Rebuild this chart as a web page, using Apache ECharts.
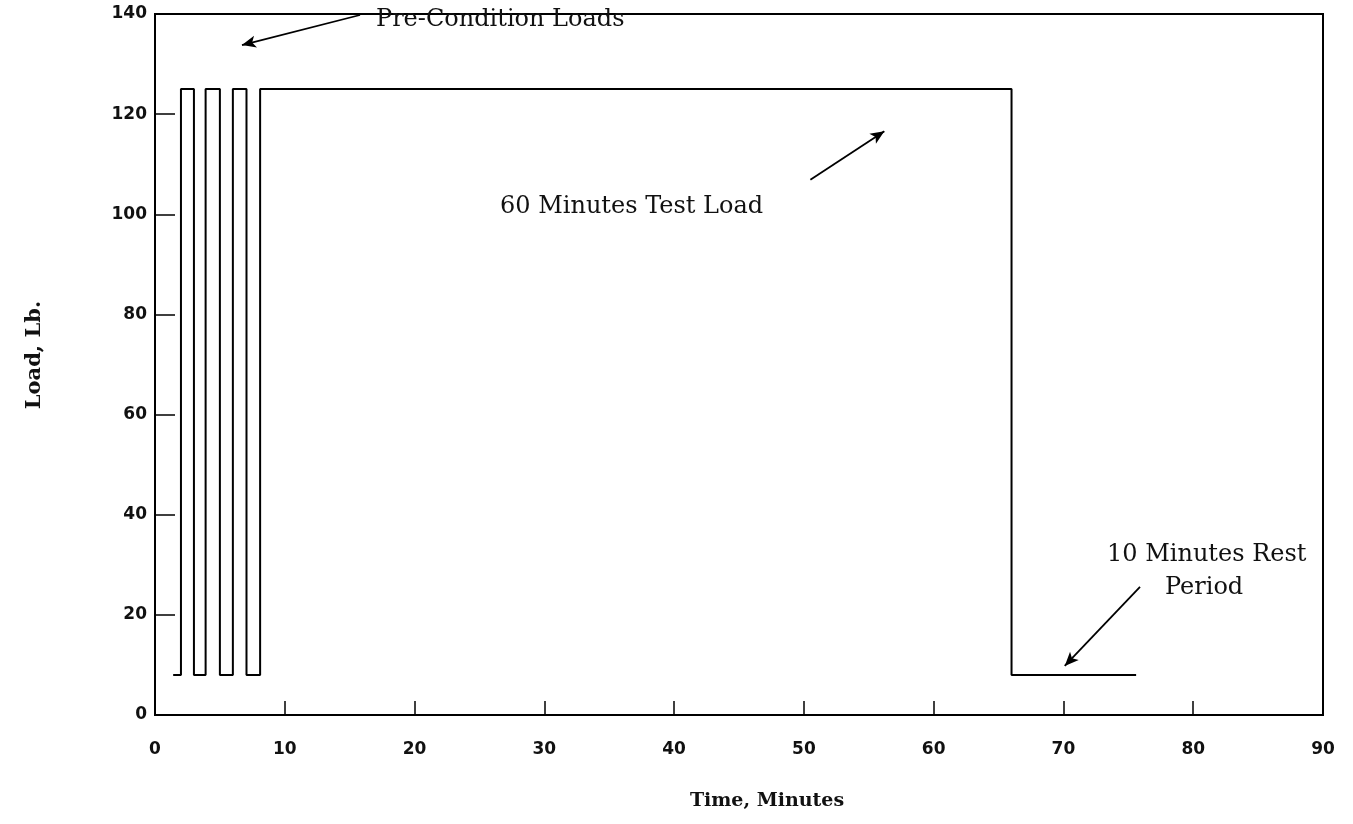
<!DOCTYPE html>
<html>
<head>
<meta charset="utf-8">
<script src="https://cdn.jsdelivr.net/npm/echarts@6/dist/echarts.min.js"></script>
<style>
  html, body { margin: 0; padding: 0; background: #fff; }
  #chart { width: 1353px; height: 824px; }
</style>
</head>
<body>
<div id="chart"></div>
<script>
// Load history: corner points of the loading profile (minutes, lb)
const timeMinutes = [1.4, 2.0, 2.0, 3.0, 3.0, 3.9, 3.9, 5.0, 5.0, 6.0, 6.0, 7.05, 7.05, 8.1, 8.1, 66.0, 66.0, 75.6];
const loadLb      = [8,   8,   125, 125, 8,   8,   125, 125, 8,   8,   125, 125,  8,    8,   125, 125,  8,    8];

// Axis ranges
const xRange = { min: 0, max: 90, step: 10 };
const yRange = { min: 0, max: 140, step: 20 };

// Annotation arrows: [fromTime, fromLoad] -> [toTime, toLoad]
const arrowPreCondition = [[15.8, 139.8], [6.7, 133.8]];
const arrowTestLoad     = [[50.5, 106.9], [56.2, 116.6]];
const arrowRest         = [[75.9, 25.6], [70.1, 9.8]];

const profile = timeMinutes.map((t, i) => [t, loadLb[i]]);

const chart = echarts.init(document.getElementById('chart'), null, { renderer: 'canvas' });

const annoFont = { fontFamily: 'DejaVu Serif', fontSize: 24, fill: '#111' };

function arrowLine(pair) {
  return [{ coord: pair[0] }, { coord: pair[1] }];
}

chart.setOption({
  animation: false,
  backgroundColor: '#fff',
  grid: {
    left: 155, right: 30, top: 14, bottom: 109,
    show: true, borderColor: '#000', borderWidth: 2, backgroundColor: 'transparent'
  },
  xAxis: {
    type: 'value', min: xRange.min, max: xRange.max, interval: xRange.step,
    axisLine: { lineStyle: { color: '#000', width: 2 } },
    axisTick: { inside: true, length: 14, lineStyle: { color: '#000', width: 1.5 } },
    axisLabel: { color: '#111', fontFamily: 'DejaVu Sans', fontSize: 17, fontWeight: 'bold', margin: 26 },
    splitLine: { show: false }
  },
  yAxis: {
    type: 'value', min: yRange.min, max: yRange.max, interval: yRange.step,
    axisLine: { show: true, lineStyle: { color: '#000', width: 2 } },
    axisTick: { show: true, inside: true, length: 20, lineStyle: { color: '#000', width: 1.5 } },
    axisLabel: { color: '#111', fontFamily: 'DejaVu Sans', fontSize: 17, fontWeight: 'bold', margin: 8 },
    splitLine: { show: false }
  },
  series: [{
    type: 'line',
    data: profile,
    symbol: 'none',
    lineStyle: { color: '#000', width: 2 },
    markLine: {
      silent: true,
      symbol: ['none', 'arrow'],
      symbolSize: [9, 14],
      label: { show: false },
      lineStyle: { color: '#000', width: 1.8, type: 'solid' },
      data: [arrowLine(arrowPreCondition), arrowLine(arrowTestLoad), arrowLine(arrowRest)]
    }
  }],
  graphic: [
    { type: 'text', left: 376, top: 8, style: Object.assign({ text: 'Pre-Condition Loads' }, annoFont) },
    { type: 'text', left: 500, top: 195, style: Object.assign({ text: '60 Minutes Test Load' }, annoFont) },
    { type: 'text', left: 1107, top: 543, style: Object.assign({ text: '10 Minutes Rest' }, annoFont) },
    { type: 'text', left: 1165, top: 576, style: Object.assign({ text: 'Period' }, annoFont) },
    {
      type: 'text', x: 35, y: 355, rotation: Math.PI / 2,
      style: { text: 'Load, Lb.', fontFamily: 'DejaVu Serif', fontWeight: 'bold', fontSize: 21, fill: '#111', align: 'center', verticalAlign: 'middle' }
    },
    {
      type: 'text', x: 767, y: 801,
      style: { text: 'Time, Minutes', fontFamily: 'DejaVu Serif', fontWeight: 'bold', fontSize: 19, fill: '#111', align: 'center', verticalAlign: 'middle' }
    }
  ]
});
</script>
</body>
</html>
